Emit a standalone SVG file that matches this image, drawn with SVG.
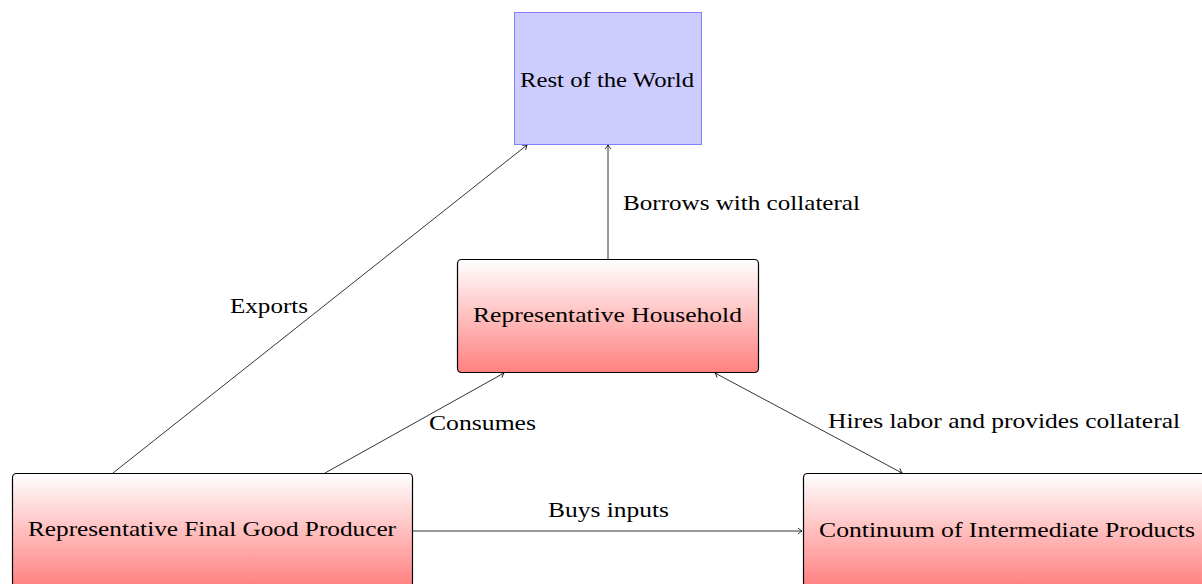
<svg xmlns="http://www.w3.org/2000/svg" width="1202" height="584" viewBox="0 0 1202 584">
<style>
text{font-family:"Liberation Serif","DejaVu Serif",serif;font-size:22px;fill:#000}
.node{stroke:#000;stroke-width:1.2;fill:url(#g)}
.edge{stroke:#000;stroke-width:0.8;fill:none}
</style>
<defs>
<linearGradient id="g" x1="0" y1="0" x2="0" y2="1">
<stop offset="0" stop-color="#ffffff"/>
<stop offset="1" stop-color="#ff8080"/>
</linearGradient>
<marker id="ah" viewBox="-5 -4 6 8" refX="0" refY="0" markerWidth="6" markerHeight="8" markerUnits="userSpaceOnUse" orient="auto-start-reverse">
<path d="M-4,-3 Q-1.5,-0.8 0,0 Q-1.5,0.8 -4,3" fill="none" stroke="#000" stroke-width="0.8"/>
</marker>
</defs>
<rect width="1202" height="584" fill="#fff"/>
<g id="edges">
<line class="edge" x1="113" y1="473" x2="527" y2="145" marker-end="url(#ah)"/>
<line class="edge" x1="608" y1="259" x2="608" y2="145" marker-end="url(#ah)"/>
<line class="edge" x1="325" y1="473" x2="504" y2="373" marker-end="url(#ah)"/>
<line class="edge" x1="715" y1="373" x2="902" y2="473" marker-start="url(#ah)" marker-end="url(#ah)"/>
<line class="edge" x1="412" y1="531" x2="802" y2="531" marker-end="url(#ah)"/>
<text x="230" y="313" textLength="78" lengthAdjust="spacingAndGlyphs">Exports</text>
<text x="623" y="210" textLength="237" lengthAdjust="spacingAndGlyphs">Borrows with collateral</text>
<text x="429" y="430" textLength="107" lengthAdjust="spacingAndGlyphs">Consumes</text>
<text x="828" y="428" textLength="352" lengthAdjust="spacingAndGlyphs">Hires labor and provides collateral</text>
<text x="548" y="517" textLength="121" lengthAdjust="spacingAndGlyphs">Buys inputs</text>
</g>
<g id="rest-of-world">
<rect x="514.5" y="12.5" width="187" height="132" fill="#ccccff" stroke="#8080ff" stroke-width="1"/>
<text x="520" y="87" textLength="174" lengthAdjust="spacingAndGlyphs">Rest of the World</text>
</g>
<g id="household">
<rect class="node" x="457.5" y="259.5" width="301" height="113" rx="4"/>
<text x="473" y="322" textLength="269" lengthAdjust="spacingAndGlyphs">Representative Household</text>
</g>
<g id="final-good">
<rect class="node" x="12.5" y="473.5" width="400" height="113" rx="4"/>
<text x="28" y="536" textLength="368" lengthAdjust="spacingAndGlyphs">Representative Final Good Producer</text>
</g>
<g id="intermediate">
<rect class="node" x="803.5" y="473.5" width="410" height="113" rx="4"/>
<text x="819" y="537" textLength="376" lengthAdjust="spacingAndGlyphs">Continuum of Intermediate Products</text>
</g>
</svg>
